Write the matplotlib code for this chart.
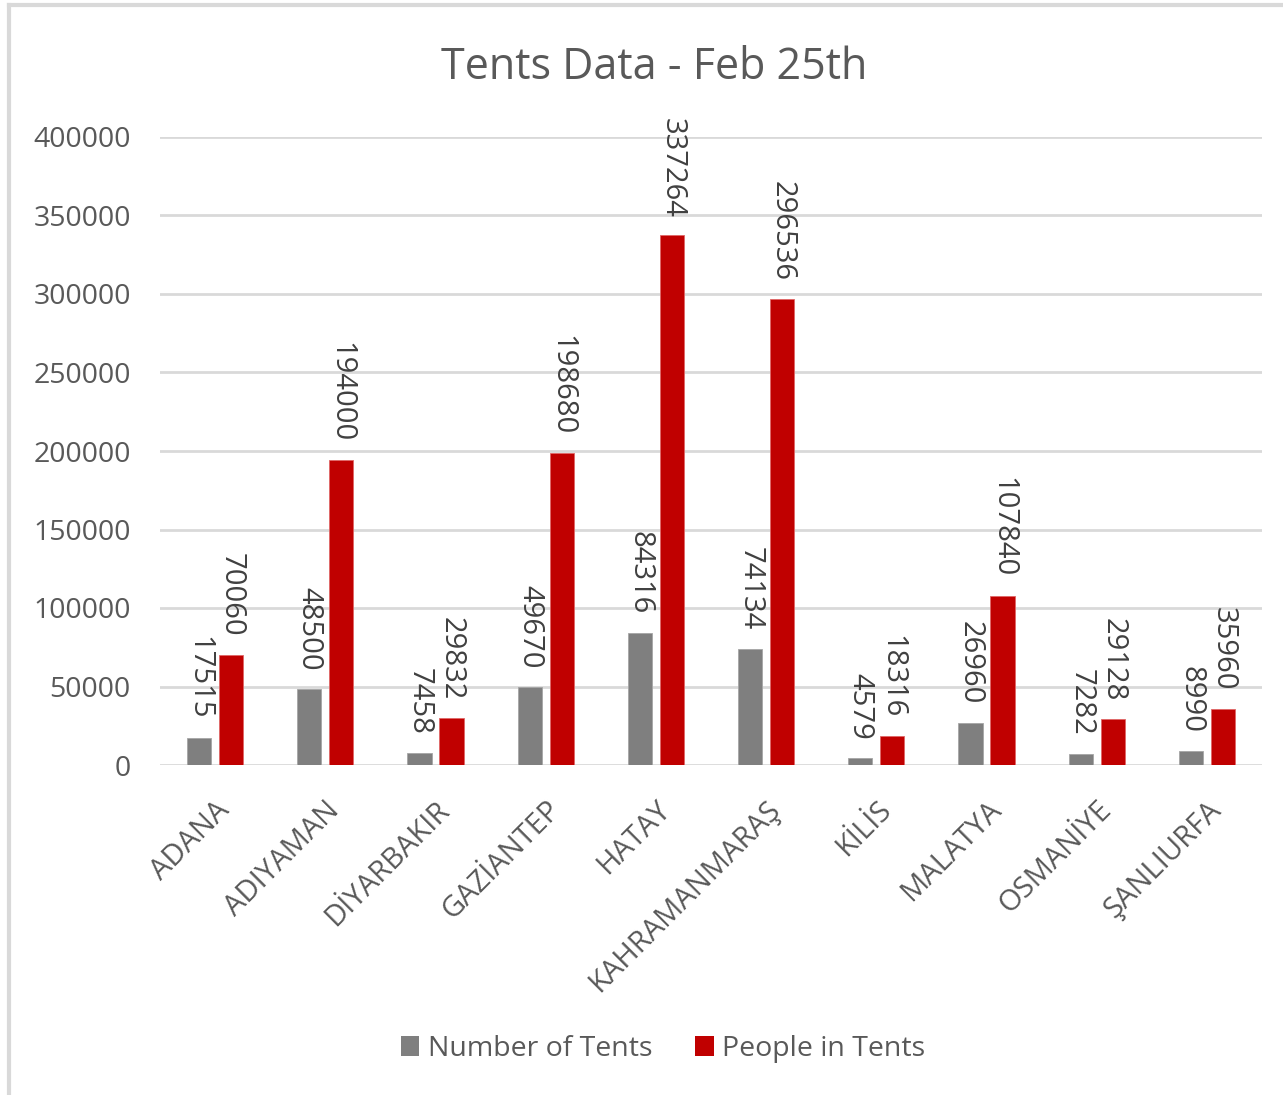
import matplotlib
matplotlib.use("Agg")
import matplotlib.pyplot as plt
import numpy as np
from matplotlib.lines import Line2D
from matplotlib.patches import Patch

categories = ["ADANA", "ADIYAMAN", "DİYARBAKIR", "GAZİANTEP", "HATAY",
              "KAHRAMANMARAŞ", "KİLİS", "MALATYA", "OSMANİYE", "ŞANLIURFA"]
tents = [17515, 48500, 7458, 49670, 84316, 74134, 4579, 26960, 7282, 8990]
people = [70060, 194000, 29832, 198680, 337264, 296536, 18316, 107840, 29128, 35960]
yticks = [0, 50000, 100000, 150000, 200000, 250000, 300000, 350000, 400000]

plt.rcParams['font.family'] = ['Open Sans', 'DejaVu Sans']
txt = '#595959'
grid = '#d9d9d9'
gray = '#7f7f7f'
red = '#c00000'

fig = plt.figure(figsize=(12.83, 10.95), dpi=100)
ax = fig.add_axes([160/1283, 1-765/1095, (1262-160)/1283, (765-137)/1095])

x = np.arange(len(categories))
w = 0.22
off = 0.145
b1 = ax.bar(x - off, tents, w, color=gray, edgecolor='#a6a6a6', linewidth=0.6, zorder=3)
b2 = ax.bar(x + off, people, w, color=red, edgecolor='#e06666', linewidth=0.6, zorder=3)

for bars, vals in ((b1, tents), (b2, people)):
    for rect, v in zip(bars, vals):
        ax.annotate(str(v), (rect.get_x() + rect.get_width()/2, v),
                    xytext=(0, 13), textcoords='offset points',
                    rotation=-90, ha='center', va='bottom',
                    fontsize=21, color='#404040', clip_on=False, zorder=4)

ax.set_xlim(-0.5, len(categories) - 0.5)
ax.set_ylim(0, 400000)
ax.set_yticks(yticks)
ax.set_yticklabels([str(t) for t in yticks])
ax.yaxis.grid(True, color=grid, linewidth=2, zorder=0)
ax.set_axisbelow(True)
for s in ax.spines.values():
    s.set_visible(False)
ax.tick_params(axis='y', length=0, pad=21, labelsize=20.5, labelcolor=txt)
ax.tick_params(axis='x', length=0, pad=22, labelsize=21, labelcolor=txt)
ax.set_xticks(x)
ax.set_xticklabels(categories, rotation=45, ha='right', rotation_mode='anchor', va='top')

fig.text(0.51, 1-68/1095, "Tents Data - Feb 25th", ha='center', va='center',
         fontsize=31, color=txt)

handles = [Patch(facecolor=gray, edgecolor='none'), Patch(facecolor=red, edgecolor='none')]
fig.legend(handles, ["Number of Tents", "People in Tents"], loc='center',
           bbox_to_anchor=(663/1283, 1-1049/1095), ncol=2, frameon=False,
           fontsize=20.5, labelcolor=txt, handlelength=0.65, handleheight=0.65,
           handletextpad=0.3, columnspacing=1.5)

# chart frame (top and left visible)
fig.add_artist(Line2D([8.5/1283, 8.5/1283], [0, 1-4.5/1095], transform=fig.transFigure,
                      color=grid, linewidth=3))
fig.add_artist(Line2D([8.5/1283, 1], [1-4.5/1095, 1-4.5/1095], transform=fig.transFigure,
                      color=grid, linewidth=3))

fig.savefig("out.png", dpi=100)
